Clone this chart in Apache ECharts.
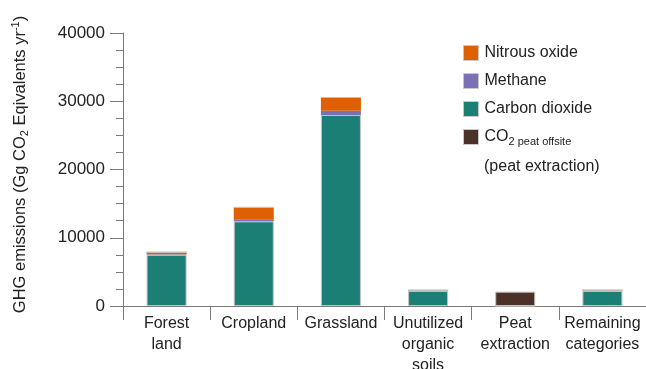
<!DOCTYPE html>
<html>
<head>
<meta charset="utf-8">
<script src="https://cdn.jsdelivr.net/npm/echarts@6/dist/echarts.min.js"></script>
<style>
  html, body { margin: 0; padding: 0; background: #fff; }
  #chart { width: 646px; height: 369px; }
</style>
</head>
<body>
<div id="chart"></div>
<script>
// Land-use categories along the x axis
const categories = ['Forest\nland', 'Cropland', 'Grassland', 'Unutilized\norganic\nsoils', 'Peat\nextraction', 'Remaining\ncategories'];

// Emissions per gas, Gg CO2 equivalents per year
const carbonDioxide = [7500, 12400, 28000, 2200, 0, 2200];
const methane = [80, 250, 600, 100, 0, 30];
const nitrousOxide = [300, 1800, 1950, 20, 0, 100];
const co2PeatOffsite = [0, 0, 0, 0, 2100, 0];

const yTicks = { min: 0, max: 40000, interval: 10000 };

const font = 'Liberation Sans, Arial, sans-serif';
const textColor = '#222';
const axisColor = '#7a7a7a';
const barBorder = '#c2c2c2';

const colors = {
  n2o: '#de6000',
  ch4: '#7b70b7',
  co2: '#1b7f76',
  peat: '#4b3128'
};

const chart = echarts.init(document.getElementById('chart'), null, { renderer: 'canvas' });

function barSeries(name, data, color, bordered) {
  return {
    name: name,
    type: 'bar',
    stack: 'total',
    data: data,
    barWidth: 40,
    itemStyle: { color: color, borderColor: barBorder, borderWidth: bordered ? 1 : 0 },
    emphasis: { disabled: true }
  };
}

chart.setOption({
  animation: false,
  textStyle: { fontFamily: font },
  grid: { left: 123, right: 0, top: 33, bottom: 63, containLabel: false, outerBoundsMode: 'none' },
  legend: {
    orient: 'vertical',
    left: 458,
    top: 40,
    itemWidth: 15,
    itemHeight: 15,
    itemGap: 12,
    icon: 'rect',
    selectedMode: false,
    data: ['Nitrous oxide', 'Methane', 'Carbon dioxide', 'CO2 peat offsite'],
    formatter: function (name) {
      if (name === 'CO2 peat offsite') return 'CO{sub|2 peat offsite}';
      return name;
    },
    itemStyle: { borderColor: '#c8c8c8', borderWidth: 1 },
    textStyle: {
      fontFamily: font,
      fontSize: 16,
      color: textColor,
      padding: [0, 0, 0, 1],
      rich: {
        sub: { fontFamily: font, fontSize: 11, color: textColor, padding: [10, 0, 0, 0] }
      }
    }
  },
  graphic: [{
    type: 'text',
    left: 484,
    top: 159,
    style: { text: '(peat extraction)', fontFamily: font, fontSize: 16, fill: textColor }
  }],
  xAxis: {
    type: 'category',
    data: categories,
    axisLine: { lineStyle: { color: axisColor, width: 1 } },
    axisTick: { show: true, length: 14, alignWithLabel: false, lineStyle: { color: axisColor } },
    axisLabel: {
      interval: 0,
      margin: 7,
      fontFamily: font,
      fontSize: 16,
      lineHeight: 21,
      color: textColor
    }
  },
  yAxis: {
    type: 'value',
    min: yTicks.min,
    max: yTicks.max,
    interval: yTicks.interval,
    name: '{t|GHG emissions (Gg CO}{sub|2}{t| Eqivalents yr}{sup|-1}{t|)}',
    nameLocation: 'middle',
    nameGap: 93,
    nameRotate: 90,
    nameTextStyle: {
      padding: [0, 0, 0, 10],
      rich: {
        t: { fontFamily: font, fontSize: 16.5, color: textColor },
        sub: { fontFamily: font, fontSize: 11, color: textColor, padding: [9, 0, 0, 0] },
        sup: { fontFamily: font, fontSize: 11, color: textColor, padding: [0, 0, 8, 0] }
      }
    },
    axisLine: { show: true, lineStyle: { color: axisColor, width: 1 } },
    axisTick: { show: true, length: 13, lineStyle: { color: axisColor } },
    minorTick: { show: true, splitNumber: 4, length: 7, lineStyle: { color: axisColor } },
    splitLine: { show: false },
    axisLabel: {
      margin: 18,
      fontFamily: font,
      fontSize: 17,
      color: textColor,
      formatter: function (v) { return String(v); }
    }
  },
  series: [
    barSeries('Carbon dioxide', carbonDioxide, colors.co2, true),
    barSeries('Methane', methane, colors.ch4, false),
    barSeries('Nitrous oxide', nitrousOxide, colors.n2o, false),
    barSeries('CO2 peat offsite', co2PeatOffsite, colors.peat, true)
  ]
});
</script>
</body>
</html>
